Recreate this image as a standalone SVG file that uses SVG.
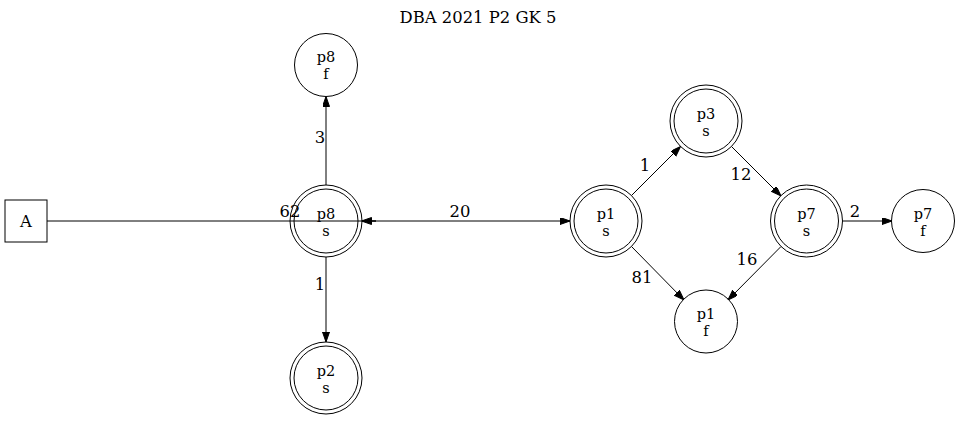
<svg xmlns="http://www.w3.org/2000/svg" width="960" height="421" viewBox="0 0 960 421">
<style>
text{font-family:"DejaVu Serif","Liberation Serif",serif;font-size:16.4px;fill:#000;text-anchor:middle}
.l{font-size:14.5px}
.n{fill:none;stroke:#000;stroke-width:1}
.e{fill:none;stroke:#000;stroke-width:1}
</style>
<defs>
<marker id="ah" markerUnits="userSpaceOnUse" markerWidth="10" markerHeight="8" refX="10" refY="3.5" orient="auto">
<path d="M0,0 L10,3.5 L0,7 Z" fill="#000" stroke="#000" stroke-width="1"/>
</marker>
</defs>
<rect width="960" height="421" fill="#fff"/>
<text x="478" y="23">DBA 2021 P2 GK 5</text>
<g id="connectors">
<line class="e" x1="47" y1="221" x2="376" y2="221"/>
<line class="e" x1="376" y1="221" x2="361.5" y2="221" marker-end="url(#ah)"/>
<line class="e" x1="370" y1="221" x2="570" y2="221" marker-end="url(#ah)"/>
<line class="e" x1="326" y1="185" x2="326" y2="96.5" marker-end="url(#ah)"/>
<line class="e" x1="326" y1="257" x2="326" y2="342" marker-end="url(#ah)"/>
<line class="e" x1="631.5" y1="195.5" x2="680.5" y2="146.5" marker-end="url(#ah)"/>
<line class="e" x1="731.5" y1="146.5" x2="781" y2="196" marker-end="url(#ah)"/>
<line class="e" x1="631.5" y1="246.5" x2="684" y2="300" marker-end="url(#ah)"/>
<line class="e" x1="781" y1="246.5" x2="728" y2="300" marker-end="url(#ah)"/>
<line class="e" x1="843" y1="221" x2="892" y2="221" marker-end="url(#ah)"/>
<text x="290" y="217">62</text>
<text x="460" y="217">20</text>
<text x="320" y="143">3</text>
<text x="320" y="290">1</text>
<text x="645" y="171">1</text>
<text x="741" y="180">12</text>
<text x="642" y="283">81</text>
<text x="747" y="265">16</text>
<text x="855" y="217">2</text>
</g>
<g id="A"><rect class="n" x="5" y="200" width="42" height="42"/><text x="26" y="227">A</text></g>
<g id="p8s"><circle class="n" cx="326" cy="221" r="36"/><circle class="n" cx="326" cy="221" r="32"/><text class="l" x="326" y="218.5">p8</text><text class="l" x="326" y="235.5">s</text></g>
<g id="p8f"><circle class="n" cx="326" cy="65" r="31.5"/><text class="l" x="326" y="62">p8</text><text class="l" x="326" y="79">f</text></g>
<g id="p2s"><circle class="n" cx="326" cy="378" r="36"/><circle class="n" cx="326" cy="378" r="32"/><text class="l" x="326" y="375.5">p2</text><text class="l" x="326" y="392.5">s</text></g>
<g id="p1s"><circle class="n" cx="606" cy="221" r="36"/><circle class="n" cx="606" cy="221" r="32"/><text class="l" x="606" y="218.5">p1</text><text class="l" x="606" y="235.5">s</text></g>
<g id="p3s"><circle class="n" cx="706" cy="121" r="36"/><circle class="n" cx="706" cy="121" r="32"/><text class="l" x="706" y="118.5">p3</text><text class="l" x="706" y="135.5">s</text></g>
<g id="p7s"><circle class="n" cx="806.5" cy="221" r="36"/><circle class="n" cx="806.5" cy="221" r="32"/><text class="l" x="806.5" y="218.5">p7</text><text class="l" x="806.5" y="235.5">s</text></g>
<g id="p7f"><circle class="n" cx="923" cy="221" r="31.5"/><text class="l" x="923" y="218.5">p7</text><text class="l" x="923" y="235.5">f</text></g>
<g id="p1f"><circle class="n" cx="706" cy="321.5" r="31.5"/><text class="l" x="706" y="319">p1</text><text class="l" x="706" y="336">f</text></g>
</svg>
